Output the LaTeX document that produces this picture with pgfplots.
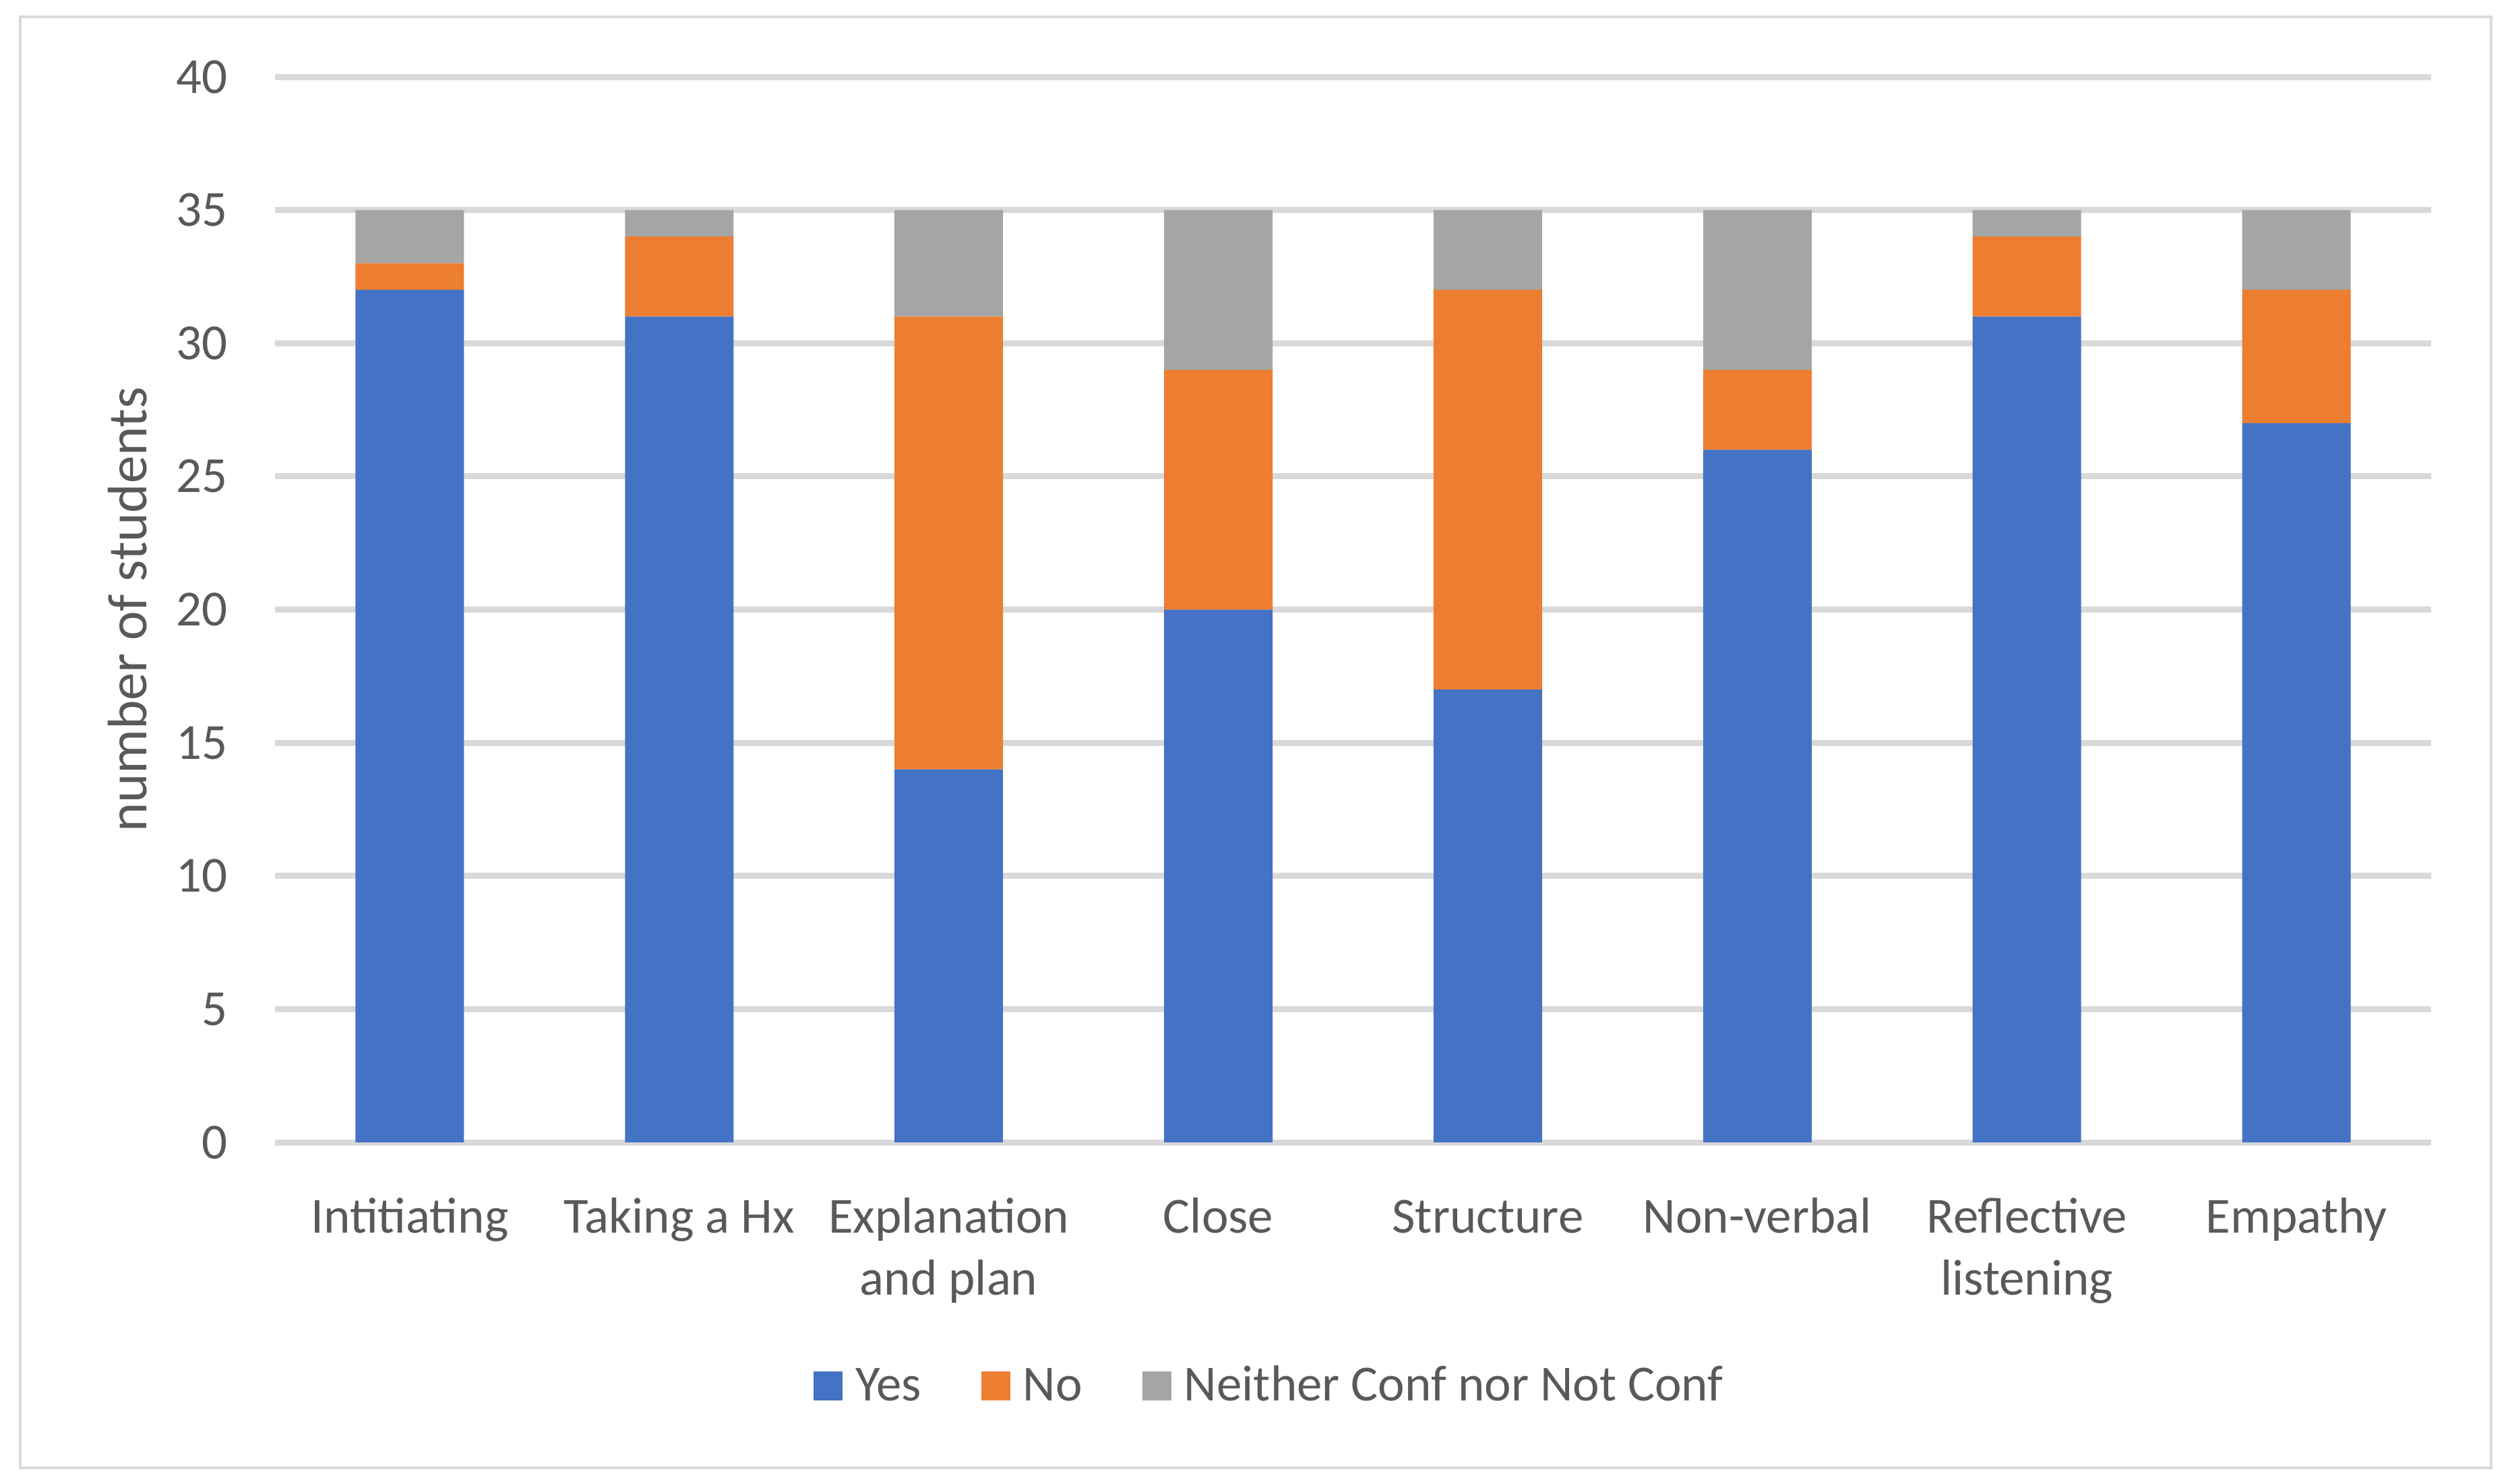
\documentclass[border=0pt]{standalone}
\usepackage{fontspec}
\setmainfont{Carlito}
\usepackage{pgfplots}
\pgfplotsset{compat=1.18}
\definecolor{cYes}{HTML}{4472C4}
\definecolor{cNo}{HTML}{ED7D31}
\definecolor{cNeither}{HTML}{A5A5A5}
\definecolor{cGrid}{HTML}{D9D9D9}
\definecolor{cText}{HTML}{595959}
\newcommand{\st}{\rule{0pt}{12pt}}
\begin{document}
\begin{tikzpicture}
\path[use as bounding box] (-81.6pt,-101.2pt) rectangle (662.6pt,339pt);
\draw[cGrid, line width=0.7pt] (-75.6pt,-96.6pt) rectangle (657.6pt,334pt);
\begin{axis}[
  scale only axis,
  width=639.8pt, height=316.2pt,
  ybar stacked, bar width=32.2pt,
  xmin=-0.5, xmax=7.5, ymin=0, ymax=40,
  xtick={0,1,2,3,4,5,6,7},
  xticklabels={\st Intitiating, \st Taking a Hx, {\st Explanation\\and plan}, \st Close, \st Structure, \st Non-verbal, {\st Reflective\\listening}, \st Empathy},
  ytick={0,5,...,40},
  ymajorgrids, grid style={cGrid, line width=1.8pt},
  axis line style={draw=none}, tick style={draw=none},
  /pgf/number format/assume math mode=true,
  tick label style={font=\fontsize{15}{18.4}\selectfont, text=cText},
  xticklabel style={anchor=north, inner sep=0pt, yshift=-14.6pt, align=center},
  yticklabel style={anchor=east, inner sep=0pt, xshift=-13.8pt},
  ylabel={number of students},
  ylabel style={at={(axis description cs:-0.0597,0.5)}, anchor=base, font=\fontsize{16.5}{19}\selectfont, text=cText},
  legend columns=3,
  legend style={draw=none, fill=none, inner sep=0pt, at={(axis description cs:0.2495,-0.2429)}, anchor=south west,
    font=\fontsize{15}{18}\selectfont, text=cText,
    cells={anchor=base}, nodes={inner sep=0pt, text depth=0pt},
    /tikz/every odd column/.append style={column sep=3.8pt},
    /tikz/every even column/.append style={column sep=17.8pt}},
  legend image code/.code={\fill[#1, draw=none] (0pt,0pt) rectangle (8.6pt,8.6pt);},
]
\addplot[fill=cYes, draw=none] coordinates {(0,32) (1,31) (2,14) (3,20) (4,17) (5,26) (6,31) (7,27)};
\addplot[fill=cNo, draw=none] coordinates {(0,1) (1,3) (2,17) (3,9) (4,15) (5,3) (6,3) (7,5)};
\addplot[fill=cNeither, draw=none] coordinates {(0,2) (1,1) (2,4) (3,6) (4,3) (5,6) (6,1) (7,3)};
\legend{Yes, No, Neither Conf nor Not Conf}
\end{axis}
\end{tikzpicture}
\end{document}
